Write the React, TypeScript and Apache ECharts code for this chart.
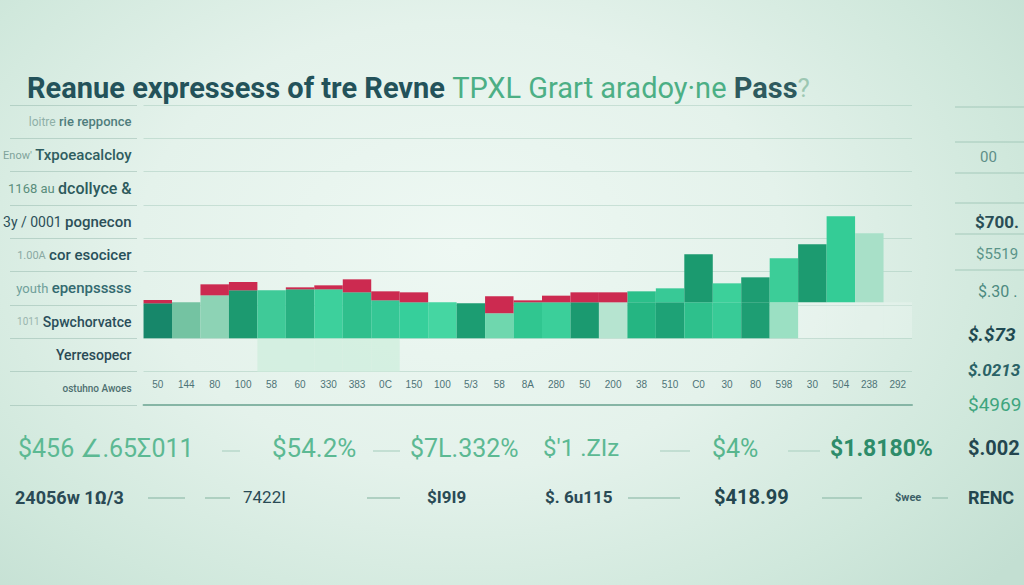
import React, { useEffect, useRef } from "react";
import * as echarts from "echarts";

// ---------- data ----------
const categories = ["50", "144", "80", "100", "58", "60", "330", "383", "0C", "150", "100", "5/3", "58", "8A", "280", "50", "200", "38", "510", "C0", "30", "80", "598", "30", "504", "238", "292"];

const rowPrefixes = ["loitre", "Enow'", "1168 au", "3y / 0001", "1.00A", "youth", "1011", "", ""];
const rowMains = ["rie repponce", "Txpoeacalcloy", "dcollyce &", "pognecon", "cor esocicer", "epenpsssss", "Spwchorvatce", "Yerresopecr", "ostuhno Awoes"];

const bandValues = [0, 0, 0, 0, -1, -1, -1, -1, -1, 0, 0, 0, 0, 0, 0, 0, 0, 0, 0, 0, 0, 0, 0, 0, 0, 0, 0];
const lowerValues = [1.05, 1.08, 1.29, 1.44, 1.44, 1.47, 1.47, 1.38, 1.14, 1.08, 1.08, 1.05, 0.75, 1.08, 1.08, 1.08, 1.08, 1.08, 1.08, 1.08, 1.08, 1.08, 1.08, 1.08, 1.08, 1.08, 1.08];
const upperValues = [0, 0, 0, 0, 0, 0, 0, 0, 0, 0, 0, 0, 0, 0, 0, 0, 0, 0.33, 0.42, 1.44, 0.57, 0.75, 1.32, 1.74, 2.58, 2.07, 0];
const redValues = [0.1, 0, 0.33, 0.25, 0, 0.06, 0.12, 0.39, 0.27, 0.3, 0, 0, 0.51, 0.06, 0.2, 0.3, 0.3, 0, 0, 0, 0, 0, 0, 0, 0, 0, 0];

const rightLabels = ["00", "$700.", "$5519", "$.30 .", "$.$73", "$.0213", "$4969"];
const summaryTop = ["$456 ∠.65Σ011", "$54.2%", "$7L.332%", "$'1 .ZIz", "$4%", "$1.8180%", "$.002"];
const summaryBottom = ["24056w 1Ω/3", "7422I", "$I9I9", "$. 6u115", "$418.99", "$wee", "RENC"];

// ---------- styles ----------
const lowerShades = ["#17876a", "#74c3a2", "#8dd3b5", "#1c9a70", "#3fca98", "#28b081", "#3dd09c", "#2fbf8c", "#35c795", "#36cf9b", "#45d6a2", "#1c9d72", "#6fd7ae", "#30c690", "#3bcf9a", "#1b9a70", "#b6e4d0", "#25b582", "#1ea276", "#2ec08c", "#38cb97", "#1e9e73", "#9be0c3", "rgba(255,255,255,0.22)", "rgba(255,255,255,0.22)", "rgba(255,255,255,0.22)", "rgba(255,255,255,0.22)"];
const upperShades = ["#2bbf8a", "#2bbf8a", "#2bbf8a", "#2bbf8a", "#2bbf8a", "#2bbf8a", "#2bbf8a", "#2bbf8a", "#2bbf8a", "#2bbf8a", "#2bbf8a", "#2bbf8a", "#2bbf8a", "#2bbf8a", "#2bbf8a", "#2bbf8a", "#2bbf8a", "#2bbf8a", "#38c996", "#1b9a6f", "#3cd09a", "#1d9d72", "#3ccd98", "#1c9b70", "#34cc96", "#a8e0c8", "#a8e0c8"];

const rowStyles = [
  { p: "#8fb0a8", m: "#4f7d7c", size: 13, ps: 12 },
  { p: "#7fa39b", m: "#2f5d60", size: 15, ps: 11 },
  { p: "#5a8d7c", m: "#2d5a5c", size: 16, ps: 13 },
  { p: "#2c4f58", m: "#2c4f58", size: 15, ps: 14 },
  { p: "#8aa9a3", m: "#28505a", size: 15, ps: 11 },
  { p: "#6fa09a", m: "#336a70", size: 15, ps: 13 },
  { p: "#9ab5ae", m: "#2a4e5a", size: 14, ps: 10 },
  { p: "#9ab5ae", m: "#2a4a55", size: 14, ps: 10 },
  { p: "#9ab5ae", m: "#4e6f70", size: 10, ps: 10 },
];

const rightLayout = [
  { x: 980, y: 157, size: 15, color: "#5f8f88", weight: "normal", italic: false },
  { x: 975, y: 222, size: 17, color: "#2a4e56", weight: "bold", italic: false },
  { x: 976, y: 254, size: 15, color: "#5a9488", weight: "normal", italic: false },
  { x: 978, y: 291, size: 16, color: "#4c8a80", weight: "normal", italic: false },
  { x: 968, y: 334, size: 19, color: "#1f4a52", weight: "bold", italic: true },
  { x: 968, y: 370, size: 17, color: "#2a6266", weight: "bold", italic: true },
  { x: 968, y: 404, size: 19, color: "#3ea57e", weight: "normal", italic: false },
];
const rightLines = [107, 142, 173, 203, 234, 270];

const topLayout = [
  { x: 18, size: 25, color: "#5cb993", weight: "normal" },
  { x: 272, size: 26, color: "#5cb993", weight: "normal" },
  { x: 410, size: 25, color: "#5cb993", weight: "normal" },
  { x: 543, size: 24, color: "#5cb993", weight: "normal" },
  { x: 712, size: 25, color: "#57b68e", weight: "normal" },
  { x: 830, size: 23, color: "#2e8c6a", weight: "bold" },
  { x: 968, size: 20, color: "#24464f", weight: "bold" },
];
const topDashes = [[222, 240], [373, 400], [660, 690], [788, 820]];
const bottomLayout = [
  { x: 15, size: 18, color: "#2a4a55", weight: "bold" },
  { x: 243, size: 17, color: "#2a4a55", weight: "normal" },
  { x: 427, size: 17, color: "#2a4a55", weight: "bold" },
  { x: 545, size: 17, color: "#2a4a55", weight: "bold" },
  { x: 714, size: 20, color: "#24464f", weight: "bold" },
  { x: 895, size: 11, color: "#3c5f66", weight: "bold" },
  { x: 968, size: 18, color: "#24464f", weight: "bold" },
];
const bottomDashes = [[148, 185], [205, 230], [367, 400], [628, 680], [822, 862], [932, 948]];

export default function App() {
  const ref = useRef<HTMLDivElement>(null);
  useEffect(() => {
    if (!ref.current) return;
    const chart = echarts.init(ref.current, null, { renderer: "svg" });

    const rich: any = {};
    rowStyles.forEach((s, i) => {
      rich["p" + i] = { color: s.p, fontSize: s.ps, fontFamily: "Roboto" };
      rich["m" + i] = { color: s.m, fontSize: s.size, fontFamily: "Roboto", fontWeight: 500 };
    });

    const graphic: any[] = [];
    rightLines.forEach((y) => graphic.push({ type: "line", shape: { x1: 955, y1: y, x2: 1024, y2: y }, style: { stroke: "#a4c9ba", lineWidth: 1 } }));
    rightLabels.forEach((t, i) => {
      const l = rightLayout[i];
      graphic.push({ type: "text", x: l.x, y: l.y, style: { text: t, fill: l.color, font: `${l.italic ? "italic " : ""}${l.weight} ${l.size}px Roboto`, verticalAlign: "middle" } });
    });
    summaryTop.forEach((t, i) => {
      const l = topLayout[i];
      graphic.push({ type: "text", x: l.x, y: 448, style: { text: t, fill: l.color, font: `${l.weight} ${l.size}px Roboto`, verticalAlign: "middle" } });
    });
    topDashes.forEach(([a, b]) => graphic.push({ type: "line", shape: { x1: a, y1: 451, x2: b, y2: 451 }, style: { stroke: "#b9d8cb", lineWidth: 1.5 } }));
    summaryBottom.forEach((t, i) => {
      const l = bottomLayout[i];
      graphic.push({ type: "text", x: l.x, y: 497, style: { text: t, fill: l.color, font: `${l.weight} ${l.size}px Roboto`, verticalAlign: "middle" } });
    });
    bottomDashes.forEach(([a, b]) => graphic.push({ type: "line", shape: { x1: a, y1: 498, x2: b, y2: 498 }, style: { stroke: "#9fc6b6", lineWidth: 1.5 } }));

    chart.setOption({
      animation: false,
      backgroundColor: "transparent",
      title: {
        left: 22,
        top: 68,
        text: "{a|Reanue expressess of tre Revne }{b|TPXL Grart aradoy·ne }{c|Pass}{d|?}",
        textStyle: {
          rich: {
            a: { fontSize: 29, fontWeight: "bold", color: "#23525a", fontFamily: "Roboto" },
            b: { fontSize: 29, fontWeight: "normal", color: "#4caf85", fontFamily: "Roboto" },
            c: { fontSize: 29, fontWeight: "bold", color: "#2e5a5e", fontFamily: "Roboto" },
            d: { fontSize: 26, fontWeight: "normal", color: "#9cc7b2", fontFamily: "Roboto" },
          },
        },
      },
      grid: [
        { left: 139, right: 112, top: 105, bottom: 180, containLabel: false },
        { left: 10, width: 127, top: 105, bottom: 180, containLabel: false },
      ],
      xAxis: [
        {
          type: "category",
          gridIndex: 0,
          data: categories,
          axisLine: { onZero: false, lineStyle: { color: "#86b5a5", width: 2 } },
          axisTick: { show: false },
          axisLabel: { inside: true, margin: 16, color: "#4d7377", fontSize: 10, fontFamily: "Liberation Sans", interval: 0 },
          splitLine: { show: false },
        },
        { type: "value", gridIndex: 1, show: false },
      ],
      yAxis: [
        { type: "value", gridIndex: 0, min: -2, max: 7, interval: 1, show: false, splitLine: { show: false } },
        {
          type: "category",
          gridIndex: 0,
          data: rowMains,
          inverse: true,
          position: "left",
          axisLine: { show: false },
          axisTick: { show: false },
          splitLine: { show: true, lineStyle: { color: "rgba(140,185,168,0.35)" } },
          axisLabel: {
            margin: 12,
            formatter: (v: string, i: number) => (rowPrefixes[i] ? `{p${i}|${rowPrefixes[i]}} ` : "") + `{m${i}|${v}}`,
            rich,
          },
        },
        {
          type: "category",
          gridIndex: 1,
          data: rowMains,
          inverse: true,
          axisLine: { show: false },
          axisTick: { show: false },
          axisLabel: { show: false },
          splitLine: { show: true, lineStyle: { color: "rgba(130,170,158,0.4)" } },
        },
      ],
      series: [
        {
          type: "bar",
          name: "band",
          stack: "total",
          xAxisIndex: 0,
          yAxisIndex: 0,
          barCategoryGap: "0%",
          data: bandValues.map((v) => ({ value: v, itemStyle: { color: "rgba(205,238,220,0.75)" } })),
        },
        {
          type: "bar",
          name: "lower",
          stack: "total",
          xAxisIndex: 0,
          yAxisIndex: 0,
          barCategoryGap: "0%",
          data: lowerValues.map((v, i) => ({ value: v, itemStyle: { color: lowerShades[i] } })),
        },
        {
          type: "bar",
          name: "upper",
          stack: "total",
          xAxisIndex: 0,
          yAxisIndex: 0,
          barCategoryGap: "0%",
          data: upperValues.map((v, i) => ({ value: v, itemStyle: { color: upperShades[i] } })),
        },
        {
          type: "bar",
          name: "red",
          stack: "total",
          xAxisIndex: 0,
          yAxisIndex: 0,
          barCategoryGap: "0%",
          itemStyle: { color: "#cc2a50" },
          data: redValues,
        },
      ],
      graphic,
    });
    return () => chart.dispose();
  }, []);

  return (
    <div
      style={{
        position: "absolute",
        left: 0,
        top: 0,
        width: 1024,
        height: 585,
        background: "radial-gradient(ellipse 70% 85% at 45% 42%, #eef8f3 0%, #e4f2eb 45%, #d0e8dc 78%, #c3dfd2 100%)",
      }}
    >
      <div ref={ref} style={{ width: 1024, height: 585 }} />
    </div>
  );
}
